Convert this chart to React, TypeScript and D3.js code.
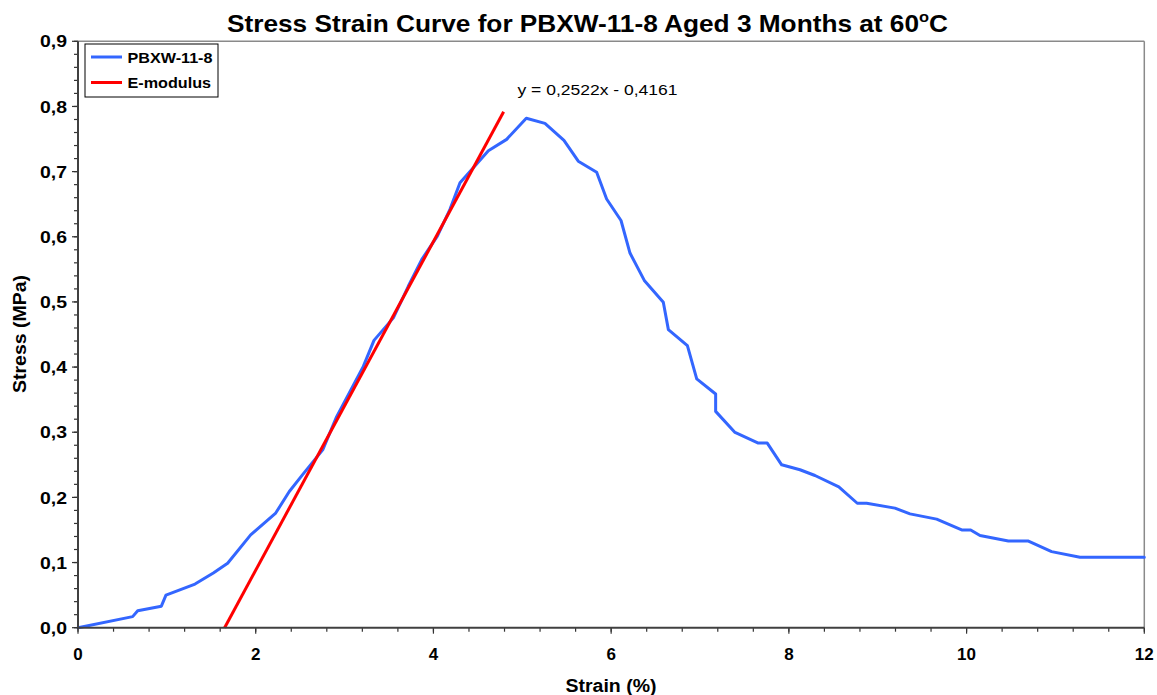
import React from "react";
import * as d3 from "d3";

const strain = [
  0, 0.615, 0.672, 0.938, 0.99, 1.317, 1.523, 1.684, 1.943, 2.225, 2.378, 2.528, 2.754, 2.911,
  3.211, 3.331, 3.549, 3.717, 3.868, 4.044, 4.186, 4.299, 4.449, 4.618, 4.824, 5.045, 5.255,
  5.469, 5.63, 5.837, 5.949, 6.111, 6.212, 6.373, 6.587, 6.644, 6.858, 6.963, 7.176, 7.176,
  7.394, 7.656, 7.757, 7.919, 8.125, 8.294, 8.562, 8.77, 8.875, 9.194, 9.363, 9.663, 9.945,
  10.046, 10.151, 10.47, 10.69, 10.957, 11.276, 12,
];
const stress = [
  0, 0.017, 0.026, 0.033, 0.05, 0.067, 0.084, 0.099, 0.1425, 0.176, 0.209, 0.235, 0.273, 0.324,
  0.401, 0.441, 0.4755, 0.524, 0.565, 0.601, 0.642, 0.683, 0.706, 0.732, 0.7495, 0.782, 0.774,
  0.748, 0.716, 0.699, 0.658, 0.625, 0.575, 0.533, 0.4995, 0.4575, 0.433, 0.382, 0.3587, 0.332,
  0.2997, 0.2834, 0.2834, 0.25, 0.2424, 0.2336, 0.2162, 0.191, 0.191, 0.1835, 0.1747, 0.1666,
  0.15, 0.15, 0.1414, 0.1332, 0.1332, 0.1168, 0.108, 0.108,
];

const slope = 0.2522;
const intercept = -0.4161;
const fitRange = [-intercept / slope, 4.79];

const xTicks = [0, 2, 4, 6, 8, 10, 12];
const yTicks = [0, 0.1, 0.2, 0.3, 0.4, 0.5, 0.6, 0.7, 0.8, 0.9];
const xMinor = d3.range(0, 12.001, 0.4);
const yMinor = d3.range(0, 0.9001, 0.02);

const seriesNames = ["PBXW-11-8", "E-modulus"];
const seriesColors = ["#3366FF", "#FF0000"];

const W = 1157;
const H = 695;
const left = 78;
const right = 1144.3;
const top = 41.3;
const bottom = 627.7;

export default function App() {
  const x = d3.scaleLinear().domain([0, 12]).range([left, right]);
  const y = d3.scaleLinear().domain([0, 0.9]).range([bottom, top]);
  const pts: [number, number][] = strain.map((s, i) => [s, stress[i]]);
  const line = d3
    .line<[number, number]>()
    .x((d) => x(d[0]))
    .y((d) => y(d[1]));
  const fitPts: [number, number][] = fitRange.map((v) => [v, slope * v + intercept]);
  const fmtY = (v: number) => d3.format(".1f")(v).replace(".", ",");
  const font = "Arial, 'Liberation Sans', sans-serif";

  return (
    <svg
      width={W}
      height={H}
      style={{ position: "absolute", left: 0, top: 0, display: "block", background: "#fff" }}
      fontFamily={font}
    >
      <rect x={0} y={0} width={W} height={H} fill="#fff" />
      {/* plot border top/right */}
      <line x1={left} x2={right} y1={top} y2={top} stroke="#8a8a8a" strokeWidth={1.5} />
      <line x1={right} x2={right} y1={top} y2={bottom} stroke="#8a8a8a" strokeWidth={1.5} />

      {/* series */}
      <path
        d={line(pts) || ""}
        fill="none"
        stroke={seriesColors[0]}
        strokeWidth={3}
        strokeLinejoin="round"
        strokeLinecap="round"
      />
      <path d={line(fitPts) || ""} fill="none" stroke={seriesColors[1]} strokeWidth={3} />

      {/* axes */}
      {yMinor.map((v, i) => (
        <line key={"ym" + i} x1={left - 4} x2={left} y1={y(v)} y2={y(v)} stroke="#333" strokeWidth={1.2} />
      ))}
      {yTicks.map((v) => (
        <g key={"y" + v}>
          <line x1={left - 6} x2={left} y1={y(v)} y2={y(v)} stroke="#333" strokeWidth={1.2} />
          <text
            x={67}
            y={y(v)}
            dy="0.36em"
            textAnchor="end"
            fontSize={17}
            fontWeight="bold"
            textLength={27}
            lengthAdjust="spacingAndGlyphs"
          >
            {fmtY(v)}
          </text>
        </g>
      ))}
      {xMinor.map((v, i) => (
        <line key={"xm" + i} x1={x(v)} x2={x(v)} y1={bottom} y2={bottom + 4} stroke="#333" strokeWidth={1.2} />
      ))}
      {xTicks.map((v) => (
        <g key={"x" + v}>
          <line x1={x(v)} x2={x(v)} y1={bottom} y2={bottom + 6} stroke="#333" strokeWidth={1.2} />
          <text x={x(v)} y={660} textAnchor="middle" fontSize={17} fontWeight="bold">
            {v}
          </text>
        </g>
      ))}
      <line x1={left} x2={left} y1={top} y2={bottom} stroke="#404040" strokeWidth={2} />
      <line x1={left} x2={right} y1={bottom} y2={bottom} stroke="#404040" strokeWidth={2} />

      {/* titles */}
      <text
        x={587.5}
        y={32}
        textAnchor="middle"
        fontSize={24}
        fontWeight="bold"
        textLength={721}
        lengthAdjust="spacingAndGlyphs"
      >
        Stress Strain Curve for PBXW-11-8 Aged 3 Months at 60
        <tspan fontSize={15} dy={-10}>o</tspan>
        <tspan dy={10}>C</tspan>
      </text>
      <text
        x={611}
        y={692}
        textAnchor="middle"
        fontSize={18}
        fontWeight="bold"
        textLength={91}
        lengthAdjust="spacingAndGlyphs"
      >
        Strain (%)
      </text>
      <text
        transform="translate(26,334) rotate(-90)"
        textAnchor="middle"
        fontSize={18}
        fontWeight="bold"
        textLength={118}
        lengthAdjust="spacingAndGlyphs"
      >
        Stress (MPa)
      </text>

      {/* equation */}
      <text x={517.5} y={94.5} fontSize={14} textLength={160} lengthAdjust="spacingAndGlyphs">
        y = 0,2522x - 0,4161
      </text>

      {/* legend */}
      <rect x={85} y={44} width={133} height={53} fill="#fff" stroke="#000" strokeWidth={1} />
      {seriesNames.map((n, i) => (
        <g key={n}>
          <line
            x1={91}
            x2={122}
            y1={57 + i * 25.5}
            y2={57 + i * 25.5}
            stroke={seriesColors[i]}
            strokeWidth={3}
          />
          <text
            x={127.5}
            y={57 + i * 25.5}
            dy="0.36em"
            fontSize={15.5}
            fontWeight="bold"
            textLength={i === 0 ? 85 : 83.5}
            lengthAdjust="spacingAndGlyphs"
          >
            {n}
          </text>
        </g>
      ))}
    </svg>
  );
}
